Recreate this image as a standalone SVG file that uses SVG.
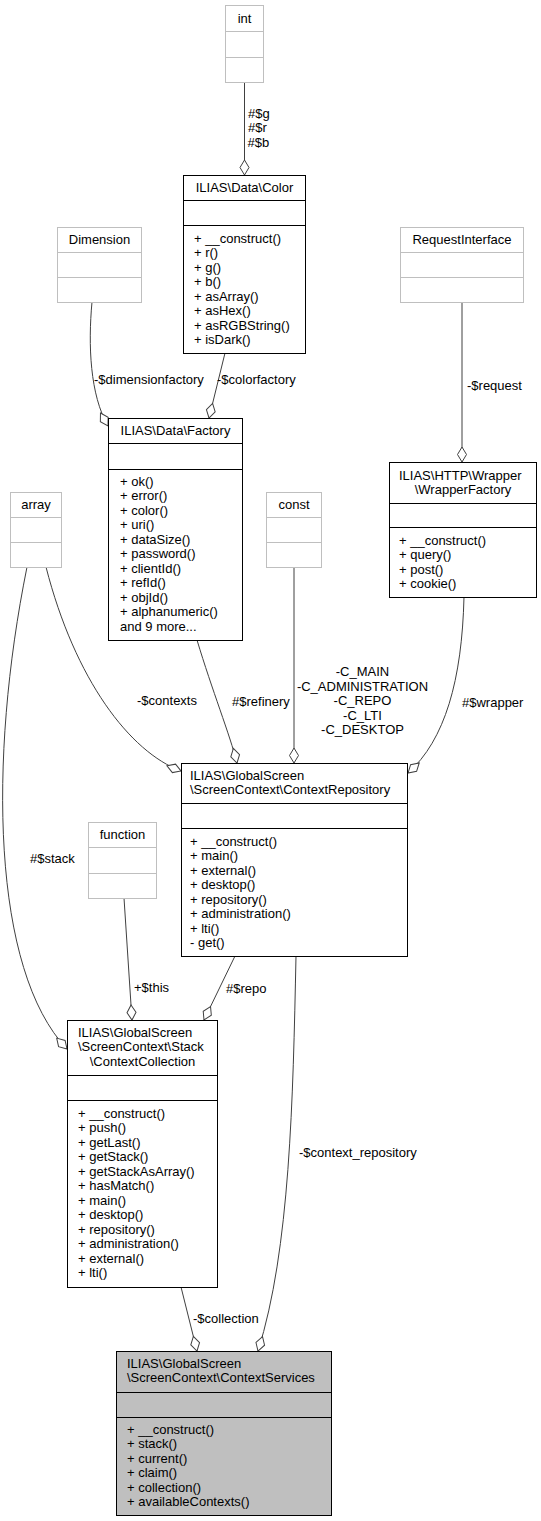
<svg xmlns="http://www.w3.org/2000/svg" width="541" height="1521" viewBox="0 0 541 1521">
<style>
text{font-family:"Liberation Sans",Arial,sans-serif;font-size:13px;fill:#000}
.c{text-anchor:middle}
.box{fill:#fff;stroke:#000;stroke-width:1}
.ubox{fill:#fff;stroke:#bfbfbf;stroke-width:1}
.sel{fill:#bfbfbf;stroke:#000;stroke-width:1}
.sep{stroke:#000;stroke-width:1}
.usep{stroke:#bfbfbf;stroke-width:1}
.e{fill:none;stroke:#404040;stroke-width:1;marker-end:url(#od)}
</style>
<defs>
<marker id="od" markerUnits="userSpaceOnUse" markerWidth="16" markerHeight="10" refX="15" refY="4.5" orient="auto" style="overflow:visible">
<path d="M0,4.5 L7.5,0 L15,4.5 L7.5,9 Z" fill="#fff" stroke="#404040" stroke-width="1"/>
</marker>
</defs>
<rect width="541" height="1521" fill="#fff"/>

<g id="connectors">
<path class="e" d="M244.5,82.5 L244.5,175"/>
<path class="e" d="M92,302 C88,345 90,395 108,426"/>
<path class="e" d="M225,353 L209,418"/>
<path class="e" d="M462,302 L462,462"/>
<path class="e" d="M46,567 C75,680 130,752 181,771"/>
<path class="e" d="M197,640 C212,690 230,735 237,763"/>
<path class="e" d="M294,567 L294,763"/>
<path class="e" d="M464,597 C462,680 445,740 408,773"/>
<path class="e" d="M27,567 C-12,760 -8,970 67,1049"/>
<path class="e" d="M124,898 L132,1020"/>
<path class="e" d="M235,956 L204,1020"/>
<path class="e" d="M296,956 C293,1100 290,1250 258,1351"/>
<path class="e" d="M181,1287 L197,1351"/>
<text x="248" y="117.5">#$g</text>
<text x="248" y="132">#$r</text>
<text x="247.5" y="146.5">#$b</text>
<text x="94" y="383.5">-$dimensionfactory</text>
<text x="217" y="383.5">-$colorfactory</text>
<text x="467" y="389.5">-$request</text>
<text x="137" y="704.5">-$contexts</text>
<text x="232" y="705.5">#$refinery</text>
<text class="c" x="362.5" y="676">-C_MAIN</text>
<text class="c" x="362.5" y="690.5">-C_ADMINISTRATION</text>
<text class="c" x="362.5" y="705">-C_REPO</text>
<text class="c" x="362.5" y="719.5">-C_LTI</text>
<text class="c" x="362.5" y="734">-C_DESKTOP</text>
<text x="462" y="706.5">#$wrapper</text>
<text x="30" y="862.5">#$stack</text>
<text x="134" y="991.5">+$this</text>
<text x="226" y="992.5">#$repo</text>
<text x="299" y="1156.5">-$context_repository</text>
<text x="193" y="1322.5">-$collection</text>
</g>

<g id="int">
<rect class="ubox" x="225.5" y="5.5" width="38" height="77"/>
<line class="usep" x1="225.5" y1="31.5" x2="263.5" y2="31.5"/>
<line class="usep" x1="225.5" y1="57.5" x2="263.5" y2="57.5"/>
<text class="c" x="244.5" y="22.5">int</text>
</g>

<g id="Color">
<rect class="box" x="183.5" y="175.5" width="122" height="178"/>
<line class="sep" x1="183.5" y1="200.5" x2="305.5" y2="200.5"/>
<line class="sep" x1="183.5" y1="225.5" x2="305.5" y2="225.5"/>
<text class="c" x="244.5" y="192">ILIAS\Data\Color</text>
<text x="194" y="242.5">+ __construct()</text>
<text x="194" y="257">+ r()</text>
<text x="194" y="271.5">+ g()</text>
<text x="194" y="286">+ b()</text>
<text x="194" y="300.5">+ asArray()</text>
<text x="194" y="315">+ asHex()</text>
<text x="194" y="329.5">+ asRGBString()</text>
<text x="194" y="344">+ isDark()</text>
</g>

<g id="Dimension">
<rect class="ubox" x="57.5" y="227.5" width="84" height="75"/>
<line class="usep" x1="57.5" y1="252.5" x2="141.5" y2="252.5"/>
<line class="usep" x1="57.5" y1="277.5" x2="141.5" y2="277.5"/>
<text class="c" x="99.5" y="244">Dimension</text>
</g>

<g id="RequestInterface">
<rect class="ubox" x="400.5" y="227.5" width="123" height="75"/>
<line class="usep" x1="400.5" y1="252.5" x2="523.5" y2="252.5"/>
<line class="usep" x1="400.5" y1="277.5" x2="523.5" y2="277.5"/>
<text class="c" x="462" y="244">RequestInterface</text>
</g>

<g id="Factory">
<rect class="box" x="108.5" y="418.5" width="134" height="222"/>
<line class="sep" x1="108.5" y1="443.5" x2="242.5" y2="443.5"/>
<line class="sep" x1="108.5" y1="469.5" x2="242.5" y2="469.5"/>
<text class="c" x="175.5" y="435">ILIAS\Data\Factory</text>
<text x="120" y="485.5">+ ok()</text>
<text x="120" y="500">+ error()</text>
<text x="120" y="514.5">+ color()</text>
<text x="120" y="529">+ uri()</text>
<text x="120" y="543.5">+ dataSize()</text>
<text x="120" y="558">+ password()</text>
<text x="120" y="572.5">+ clientId()</text>
<text x="120" y="587">+ refId()</text>
<text x="120" y="601.5">+ objId()</text>
<text x="120" y="616">+ alphanumeric()</text>
<text x="120" y="630.5">and 9 more...</text>
</g>

<g id="array">
<rect class="ubox" x="10.5" y="492.5" width="51" height="75"/>
<line class="usep" x1="10.5" y1="517.5" x2="61.5" y2="517.5"/>
<line class="usep" x1="10.5" y1="542.5" x2="61.5" y2="542.5"/>
<text class="c" x="36" y="509">array</text>
</g>

<g id="const">
<rect class="ubox" x="266.5" y="492.5" width="55" height="75"/>
<line class="usep" x1="266.5" y1="517.5" x2="321.5" y2="517.5"/>
<line class="usep" x1="266.5" y1="542.5" x2="321.5" y2="542.5"/>
<text class="c" x="294" y="509">const</text>
</g>

<g id="WrapperFactory">
<rect class="box" x="389.5" y="462.5" width="147" height="135"/>
<line class="sep" x1="389.5" y1="503.5" x2="536.5" y2="503.5"/>
<line class="sep" x1="389.5" y1="527.5" x2="536.5" y2="527.5"/>
<text x="399" y="479.5">ILIAS\HTTP\Wrapper</text>
<text class="c" x="463" y="494">\WrapperFactory</text>
<text x="399" y="544.5">+ __construct()</text>
<text x="399" y="559">+ query()</text>
<text x="399" y="573.5">+ post()</text>
<text x="399" y="588">+ cookie()</text>
</g>

<g id="function">
<rect class="ubox" x="88.5" y="822.5" width="68" height="76"/>
<line class="usep" x1="88.5" y1="847.5" x2="156.5" y2="847.5"/>
<line class="usep" x1="88.5" y1="873.5" x2="156.5" y2="873.5"/>
<text class="c" x="122.5" y="839">function</text>
</g>

<g id="ContextRepository">
<rect class="box" x="181.5" y="763.5" width="226" height="193"/>
<line class="sep" x1="181.5" y1="803.5" x2="407.5" y2="803.5"/>
<line class="sep" x1="181.5" y1="828.5" x2="407.5" y2="828.5"/>
<text x="190" y="779.5">ILIAS\GlobalScreen</text>
<text x="190" y="794">\ScreenContext\ContextRepository</text>
<text x="190" y="845.5">+ __construct()</text>
<text x="190" y="860">+ main()</text>
<text x="190" y="874.5">+ external()</text>
<text x="190" y="889">+ desktop()</text>
<text x="190" y="903.5">+ repository()</text>
<text x="190" y="918">+ administration()</text>
<text x="190" y="932.5">+ lti()</text>
<text x="190" y="947">- get()</text>
</g>

<g id="ContextCollection">
<rect class="box" x="67.5" y="1020.5" width="150" height="267"/>
<line class="sep" x1="67.5" y1="1075.5" x2="217.5" y2="1075.5"/>
<line class="sep" x1="67.5" y1="1100.5" x2="217.5" y2="1100.5"/>
<text x="78" y="1036.5">ILIAS\GlobalScreen</text>
<text x="78" y="1051">\ScreenContext\Stack</text>
<text class="c" x="142.5" y="1065.5">\ContextCollection</text>
<text x="78" y="1117.5">+ __construct()</text>
<text x="78" y="1132">+ push()</text>
<text x="78" y="1146.5">+ getLast()</text>
<text x="78" y="1161">+ getStack()</text>
<text x="78" y="1175.5">+ getStackAsArray()</text>
<text x="78" y="1190">+ hasMatch()</text>
<text x="78" y="1204.5">+ main()</text>
<text x="78" y="1219">+ desktop()</text>
<text x="78" y="1233.5">+ repository()</text>
<text x="78" y="1248">+ administration()</text>
<text x="78" y="1262.5">+ external()</text>
<text x="78" y="1277">+ lti()</text>
</g>

<g id="ContextServices">
<rect class="sel" x="116.5" y="1351.5" width="215" height="164"/>
<line class="sep" x1="116.5" y1="1392.5" x2="331.5" y2="1392.5"/>
<line class="sep" x1="116.5" y1="1417.5" x2="331.5" y2="1417.5"/>
<text x="127" y="1367.5">ILIAS\GlobalScreen</text>
<text x="127" y="1382">\ScreenContext\ContextServices</text>
<text x="127" y="1433.5">+ __construct()</text>
<text x="127" y="1448">+ stack()</text>
<text x="127" y="1462.5">+ current()</text>
<text x="127" y="1477">+ claim()</text>
<text x="127" y="1491.5">+ collection()</text>
<text x="127" y="1506">+ availableContexts()</text>
</g>
</svg>
